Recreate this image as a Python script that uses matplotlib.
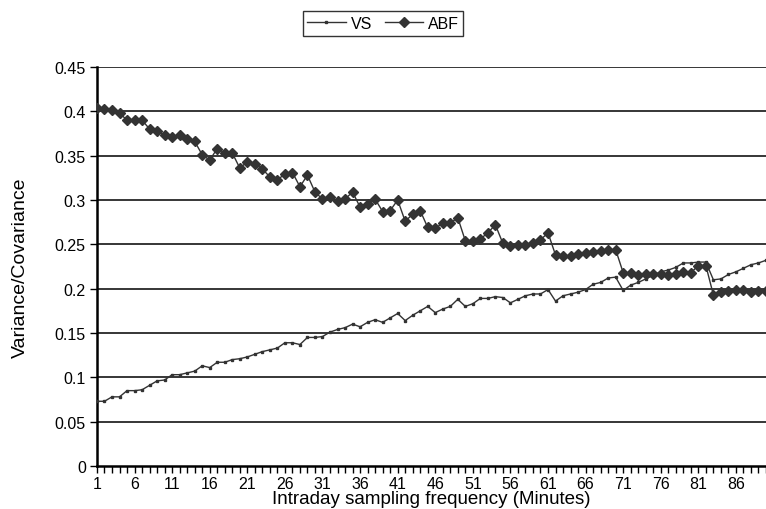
import numpy as np
import matplotlib
matplotlib.use("Agg")
import matplotlib.pyplot as plt


# Data
minutes = list(range(1, 91))

vs = [0.073, 0.073, 0.078, 0.078, 0.085, 0.085, 0.086, 0.091, 0.096, 0.097,
      0.103, 0.103, 0.105, 0.107, 0.113, 0.111, 0.117, 0.117, 0.120, 0.121,
      0.123, 0.126, 0.129, 0.131, 0.133, 0.139, 0.139, 0.137, 0.145, 0.145,
      0.146, 0.151, 0.154, 0.156, 0.160, 0.157, 0.162, 0.165, 0.162, 0.167,
      0.172, 0.164, 0.170, 0.175, 0.180, 0.173, 0.177, 0.180, 0.188, 0.180,
      0.183, 0.189, 0.189, 0.191, 0.190, 0.184, 0.188, 0.192, 0.194, 0.194,
      0.199, 0.186, 0.192, 0.194, 0.196, 0.199, 0.205, 0.207, 0.212, 0.213,
      0.198, 0.204, 0.207, 0.211, 0.215, 0.219, 0.221, 0.224, 0.229, 0.229,
      0.230, 0.230, 0.210, 0.211, 0.216, 0.219, 0.223, 0.227, 0.229, 0.232]

abf = [0.404, 0.403, 0.401, 0.398, 0.390, 0.390, 0.390, 0.380, 0.378, 0.373,
       0.371, 0.373, 0.369, 0.366, 0.351, 0.345, 0.358, 0.353, 0.353, 0.336,
       0.343, 0.341, 0.335, 0.326, 0.323, 0.329, 0.331, 0.315, 0.328, 0.309,
       0.301, 0.303, 0.299, 0.301, 0.309, 0.292, 0.296, 0.301, 0.287, 0.288,
       0.300, 0.276, 0.284, 0.288, 0.269, 0.268, 0.274, 0.274, 0.280, 0.254,
       0.254, 0.256, 0.263, 0.272, 0.251, 0.248, 0.249, 0.249, 0.252, 0.255,
       0.263, 0.238, 0.237, 0.237, 0.239, 0.240, 0.241, 0.243, 0.244, 0.244,
       0.218, 0.218, 0.215, 0.217, 0.217, 0.217, 0.215, 0.217, 0.219, 0.218,
       0.226, 0.226, 0.193, 0.196, 0.197, 0.199, 0.199, 0.196, 0.197, 0.197]

y_ticks = [0, 0.05, 0.1, 0.15, 0.2, 0.25, 0.3, 0.35, 0.4, 0.45]
y_tick_labels = ["0", "0.05", "0.1", "0.15", "0.2", "0.25", "0.3", "0.35", "0.4", "0.45"]

plt.rcParams['font.family'] = ['Liberation Sans', 'DejaVu Sans']

fig = plt.figure(figsize=(7.66, 5.10), dpi=100)
ax = fig.add_axes([0.1266, 0.0843, 0.8734, 0.7824])

line_col = '#333333'

ax.plot(minutes, vs, color=line_col, lw=1.0, marker='s', markersize=1.8,
        label='VS', zorder=3)
ax.plot(minutes, abf, color=line_col, lw=1.0, marker='D', markersize=5.5,
        label='ABF', zorder=4)

# horizontal gridlines, Excel style
for y in y_ticks[1:]:
    ax.axhline(y, color='black', lw=1.1, zorder=1)

ax.set_xlim(1, 90)
ax.set_ylim(0, 0.45)
ax.set_yticks(y_ticks)
ax.set_yticklabels(y_tick_labels, fontsize=11.5)

ax.set_xticks(minutes)
ax.set_xticklabels([str(m) if (m - 1) % 5 == 0 else '' for m in minutes], fontsize=11.5)
ax.tick_params(axis='x', length=5, width=1, direction='out', pad=2)
ax.tick_params(axis='y', length=5, width=1, direction='out', pad=3)

for side in ['top', 'right']:
    ax.spines[side].set_visible(False)
ax.spines['left'].set_linewidth(1.8)
ax.spines['bottom'].set_linewidth(1.8)

ax.set_ylabel('Variance/Covariance', fontsize=14)
ax.yaxis.set_label_coords(-0.102, 0.5)
ax.set_xlabel('Intraday sampling frequency (Minutes)', fontsize=13.5)
ax.xaxis.set_label_coords(0.5, -0.06)

leg = fig.legend(loc='upper center', bbox_to_anchor=(0.5, 0.992), ncol=2,
                 fontsize=11.5, frameon=True, fancybox=False, handlelength=2.4,
                 columnspacing=0.8, handletextpad=0.3, borderpad=0.3)
leg.get_frame().set_edgecolor('black')
leg.get_frame().set_linewidth(1.0)

fig.savefig('out.png', dpi=100)
